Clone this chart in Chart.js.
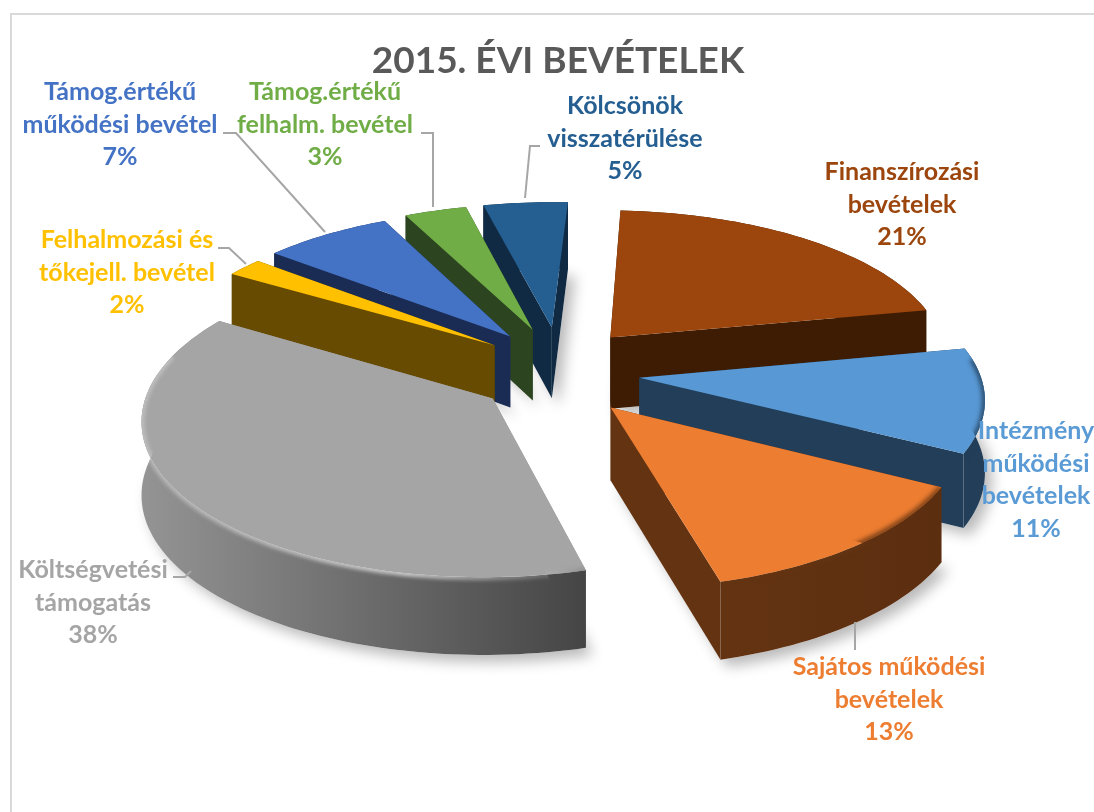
<!DOCTYPE html>
<html><head><meta charset="utf-8">
<script src="https://cdn.jsdelivr.net/npm/chart.js@4/dist/chart.umd.min.js"></script>
<style>html,body{margin:0;padding:0;background:#fff}#w{width:1094px;height:812px;overflow:hidden}canvas{display:block}</style>
</head><body><div id="w"><canvas id="c" width="1094" height="812"></canvas></div>
<script>
const categories=[["Finanszírozási","bevételek"],["Intézmény","működési","bevételek"],["Sajátos működési","bevételek"],["Költségvetési","támogatás"],["Felhalmozási és","tőkejell. bevétel"],["Támog.értékű","működési bevétel"],["Támog.értékű","felhalm. bevétel"],["Kölcsönök","visszatérülése"]];
const values=[21,11,13,38,2,7,3.4,4.6];
const topColors=["#9C450C","#5898D4","#ED7D31","#A5A5A5","#FFC000","#4472C4","#70AD47","#255E91"];
const labelColors=["#9C450C","#5B9BD5","#ED7D31","#A5A5A5","#FFC000","#4472C4","#70AD47","#255E91"];
const wallLeft=["#3E1C04","#223E58","#643412","#949494","#664B00","#1A2C54","#2C441F","#0F2A42"];
const wallRight=["#3E1C04","#223E58","#5C2E10","#454545","#664B00","#1A2C54","#2C441F","#0F2A42"];
const labelPos=[[902,172],[1036,431],[889,667],[93,570],[127,240],[120,92],[325,92],[625,106]];
const leaders=[[[855,622],[855,650]],[[173,577],[185,577],[191,571]],[[218,248],[229,248],[246,264]],[[223,133],[236,133],[325,232]],[[421,133],[433,133],[433,207]],[[540,146],[530,146],[525,198]]];
const view={cx:559,cy:371,A:340,B:150,p:0.12,D:72,boostX:1.1,boostY:1.4};
function P(u,v,z){const w=1-view.p*v;return [view.cx+view.A*u/w,view.cy+view.B*v/w+view.D*z/Math.sqrt(w)];}
function rimPts(s,z){const pts=[];const n=Math.max(8,Math.ceil((s.e-s.s)*40));for(let i=0;i<=n;i++){const a=s.s+(s.e-s.s)*i/n;pts.push(P(s.ou+Math.cos(a),s.ov+Math.sin(a),z));}return pts;}
function poly(ctx,pts){ctx.beginPath();pts.forEach((p,i)=>i?ctx.lineTo(p[0],p[1]):ctx.moveTo(p[0],p[1]));ctx.closePath();}
function line(ctx,pts){ctx.beginPath();pts.forEach((p,i)=>i?ctx.lineTo(p[0],p[1]):ctx.moveTo(p[0],p[1]));}
const pie3d={id:'pie3d',
 beforeDraw(chart){const c=chart.ctx;c.save();c.strokeStyle='#d9d9d9';c.lineWidth=2;c.beginPath();c.moveTo(11,812);c.lineTo(11,14);c.lineTo(1094,14);c.stroke();c.restore();},
 beforeDatasetDraw(chart,args){
  const ctx=chart.ctx;const arcs=args.meta.data;
  const slices=arcs.map((el,i)=>{const o=el.options.offset/el.outerRadius;const m=(el.startAngle+el.endAngle)/2;
    return {i,s:el.startAngle,e:el.endAngle,m,ou:o*view.boostX*Math.cos(m),ov:o*view.boostY*Math.sin(m),top:el.options.backgroundColor};});
  slices.sort((a,b)=>Math.sin(a.m)-Math.sin(b.m));
  ctx.save();
  ctx.save();ctx.shadowColor='rgba(0,0,0,0.28)';ctx.shadowBlur=14;ctx.shadowOffsetX=7;ctx.shadowOffsetY=7;ctx.fillStyle='#fff';
  slices.forEach(s=>{const apex=P(s.ou,s.ov,1);poly(ctx,[apex,...rimPts(s,1)]);ctx.fill();});
  ctx.restore();
  slices.forEach(s=>{
   const tApex=P(s.ou,s.ov,0),bApex=P(s.ou,s.ov,1);const t=rimPts(s,0),b=rimPts(s,1);
   const L=wallLeft[s.i],R=wallRight[s.i];
   ctx.fillStyle=L;
   poly(ctx,[tApex,t[0],b[0],bApex]);ctx.fill();
   poly(ctx,[tApex,t[t.length-1],b[b.length-1],bApex]);ctx.fill();
   const xs=t.map(p=>p[0]);const minX=Math.min(...xs),maxX=Math.max(...xs);
   const g=ctx.createLinearGradient(minX,0,maxX,0);g.addColorStop(0,L);g.addColorStop(1,R);ctx.fillStyle=g;
   poly(ctx,[...t,...b.slice().reverse()]);ctx.fill();
   poly(ctx,[tApex,...t]);ctx.fillStyle=s.top;ctx.fill();
   const near=[];for(let k=0;k<t.length;k++){const a=s.s+(s.e-s.s)*k/(t.length-1);if(Math.sin(a)+s.ov>-0.1)near.push(t[k]);}
   if(near.length>1){ctx.save();poly(ctx,[tApex,...t,...b.slice().reverse(),bApex]);ctx.clip();
     const grey=s.i===3;
     ctx.filter=grey?'blur(2px)':'blur(2.5px)';ctx.lineWidth=grey?5:5;
     if(grey){const h=ctx.createLinearGradient(minX,0,maxX,0);h.addColorStop(0,'rgba(225,225,225,0.5)');h.addColorStop(0.6,'rgba(235,235,235,0.9)');h.addColorStop(0.9,'rgba(200,200,200,0.35)');h.addColorStop(1,'rgba(120,120,120,0.6)');ctx.strokeStyle=h;}
     else ctx.strokeStyle=L;
     line(ctx,near);ctx.stroke();ctx.restore();}
  });
  ctx.restore();
  return false;
 },
 afterDraw(chart){
  const c=chart.ctx;c.save();
  c.strokeStyle='#a6a6a6';c.lineWidth=2;
  leaders.forEach(l=>{line(c,l);c.stroke();});
  c.font='bold 25px Lato';c.textAlign='center';c.textBaseline='middle';
  categories.forEach((lines,i)=>{c.fillStyle=labelColors[i];const [x,y]=labelPos[i];
    [...lines,Math.round(values[i])+'%'].forEach((txt,k)=>c.fillText(txt,x,y+k*32.6));});
  c.restore();
 }
};
new Chart(document.getElementById('c'),{type:'pie',
 data:{labels:categories.map(l=>l.join(' ')),datasets:[{data:values,backgroundColor:topColors,borderWidth:0,offset:70}]},
 options:{responsive:false,animation:false,rotation:3,
  layout:{padding:{left:22,top:39}},
  plugins:{legend:{display:false},tooltip:{enabled:false},
   title:{display:true,text:'2015. ÉVI BEVÉTELEK',color:'#595959',font:{family:'Lato',size:37,weight:'bold'},padding:{top:0,bottom:10}}}},
 plugins:[pie3d]});
</script></body></html>
